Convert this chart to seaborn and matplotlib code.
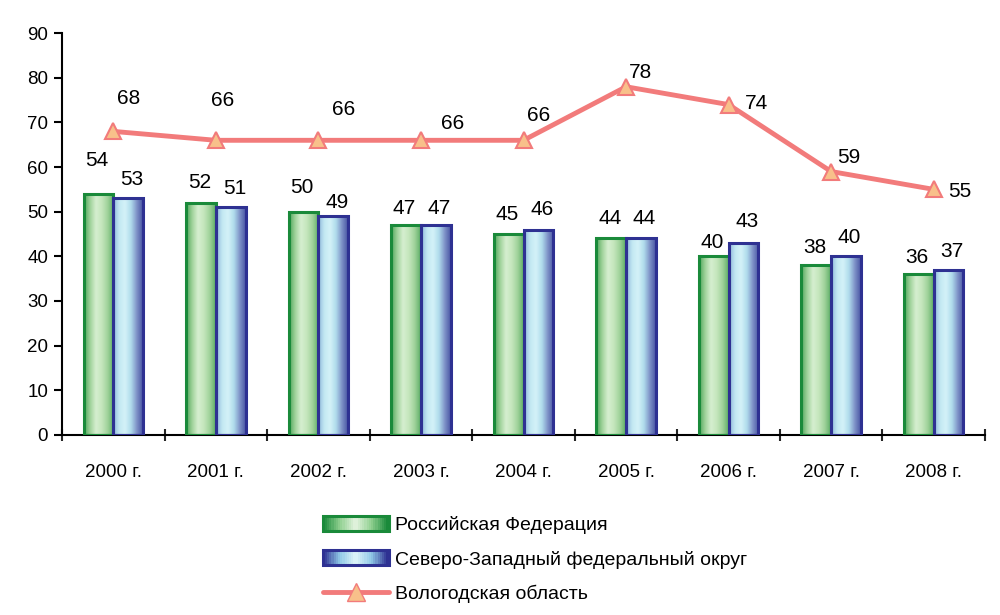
import numpy as np
import pandas as pd
import matplotlib
matplotlib.use("Agg")
import matplotlib.pyplot as plt
import seaborn as sns
from matplotlib.patches import Rectangle
from matplotlib.lines import Line2D
from matplotlib.legend_handler import HandlerBase

years = ["2000 г.", "2001 г.", "2002 г.", "2003 г.", "2004 г.",
         "2005 г.", "2006 г.", "2007 г.", "2008 г."]
rf = [54, 52, 50, 47, 45, 44, 40, 38, 36]
szfo = [53, 51, 49, 47, 46, 44, 43, 40, 37]
vologda = [68, 66, 66, 66, 66, 78, 74, 59, 55]
series_names = ["Российская Федерация", "Северо-Западный федеральный округ",
                "Вологодская область"]

# label offsets (x in category units, y in value units)
rf_dy = [7.4, 4.5, 5.4, 3.8, 4.3, 4.5, 3.2, 4.0, 3.8]
sz_dy = [4.3, 4.3, 3.0, 3.8, 4.5, 4.5, 4.7, 4.3, 4.0]
line_dx = [0.15, 0.07, 0.25, 0.31, 0.15, 0.14, 0.27, 0.17, 0.25]
line_dy = [7.4, 9.0, 7.0, 3.8, 5.6, 3.1, 0.2, 3.1, -0.5]

sns.set_theme(style="white")
plt.rcParams['font.family'] = ['Liberation Sans', 'DejaVu Sans']
plt.rcParams['text.color'] = 'black'

df = pd.DataFrame({
    "year": years * 2,
    "value": rf + szfo,
    "series": [series_names[0]] * len(years) + [series_names[1]] * len(years),
})

fig = plt.figure(figsize=(10, 6.15), dpi=100)
ax = fig.add_axes([0.062, 0.293, 0.923, 0.653])

sns.barplot(data=df, x="year", y="value", hue="series", width=0.58,
            palette=["#8cc98c", "#a8dcea"], legend=False, ax=ax)

green_colors = ["#4fa65a", "#9fd29a", "#d6efd0", "#c4e6bc", "#9fd29a", "#5eae66"]
blue_colors = ["#8fb6dc", "#c2e8f2", "#d4f2f8", "#b0dcec", "#7f93c8", "#4a56a4"]
green_cmap = matplotlib.colors.LinearSegmentedColormap.from_list("g", green_colors)
blue_cmap = matplotlib.colors.LinearSegmentedColormap.from_list("b", blue_colors)
edges = ["#1a8a3a", "#2e3192"]
grad = np.linspace(0, 1, 64).reshape(1, -1)
for cont, cmap, ec in zip(ax.containers, [green_cmap, blue_cmap], edges):
    for bar in cont:
        x0, w, h = bar.get_x(), bar.get_width(), bar.get_height()
        im = ax.imshow(grad, cmap=cmap, extent=[x0, x0 + w, 0, h],
                       aspect="auto", zorder=2, interpolation="bicubic")
        im.set_clip_path(bar)
        bar.set_facecolor("none")
        bar.set_edgecolor(ec)
        bar.set_linewidth(2.2)
        bar.set_zorder(3)

sns.pointplot(x=years, y=vologda, color="#f27b7b", markers="^",
              linestyles="-", ax=ax, linewidth=3.5, markersize=12,
              markerfacecolor="#f8c08a", markeredgecolor="#f27b7b",
              markeredgewidth=1.5, zorder=5)

ax.set_xlim(-0.5, 8.5)
ax.set_ylim(0, 90)
ax.set_yticks(range(0, 91, 10))
ax.set_xlabel("")
ax.set_ylabel("")
ax.tick_params(axis="y", labelsize=13.5, length=6, width=1.5, direction="out",
               left=True, pad=4, colors="black")
ax.set_xticks(np.arange(9), years)
ax.tick_params(axis="x", labelsize=13.5, length=0, pad=21, colors="black")
ax.set_xticks(np.arange(-0.5, 9, 1), minor=True)
ax.tick_params(axis="x", which="minor", length=9, width=1.5, direction="inout",
               bottom=True)
for s in ["top", "right"]:
    ax.spines[s].set_visible(False)
for s in ["left", "bottom"]:
    ax.spines[s].set_color("black")
    ax.spines[s].set_linewidth(1.5)

for i in range(len(years)):
    ax.text(i - 0.16, rf[i] + rf_dy[i], str(rf[i]), ha="center", va="center",
            fontsize=15, zorder=6)
    ax.text(i + 0.18, szfo[i] + sz_dy[i], str(szfo[i]), ha="center",
            va="center", fontsize=15, zorder=6)
    ax.text(i + line_dx[i], vologda[i] + line_dy[i], str(vologda[i]),
            ha="center", va="center", fontsize=15, zorder=6)


class GradientHandler(HandlerBase):
    def __init__(self, colors, edge):
        super().__init__()
        self.colors = colors
        self.edge = edge

    def create_artists(self, legend, orig_handle, xdescent, ydescent,
                       width, height, fontsize, trans):
        cmap = matplotlib.colors.LinearSegmentedColormap.from_list("h", self.colors)
        n = 30
        artists = []
        for k in range(n):
            r = Rectangle((-xdescent + width * k / n, -ydescent), width / n + 0.3,
                          height, facecolor=cmap(k / (n - 1)), edgecolor="none",
                          transform=trans)
            artists.append(r)
        artists.append(Rectangle((-xdescent, -ydescent), width, height,
                                 facecolor="none", edgecolor=self.edge,
                                 linewidth=2.2, transform=trans))
        return artists


h_rf = Rectangle((0, 0), 1, 1)
h_sz = Rectangle((0, 0), 1, 1)
h_line = Line2D([], [], color="#f27b7b", linewidth=3.5, marker="^",
                markersize=13, markerfacecolor="#f8c08a",
                markeredgecolor="#f27b7b")
fig.legend([h_rf, h_sz, h_line], series_names, loc="upper left",
           bbox_to_anchor=(0.305, 0.19), frameon=False, fontsize=14,
           handlelength=3.4, handleheight=0.8, handletextpad=0.35,
           labelspacing=0.85,
           handler_map={h_rf: GradientHandler(["#1a8a3a", "#8fcf8f", "#e4f4e0",
                                                "#8fcf8f", "#1a8a3a"], "#1a8a3a"),
                        h_sz: GradientHandler(["#2e3192", "#8fc8e6", "#e0f6fa",
                                                "#8fc8e6", "#2e3192"], "#2e3192")})

fig.savefig("out.png", dpi=100)
